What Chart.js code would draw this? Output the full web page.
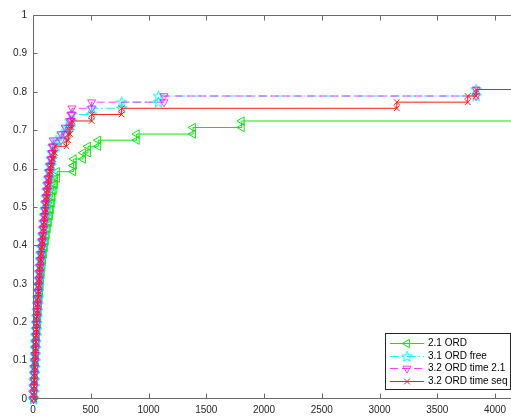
<!DOCTYPE html>
<html>
<head>
<meta charset="utf-8">
<script src="https://cdn.jsdelivr.net/npm/chart.js@4.4.0/dist/chart.umd.min.js"></script>
<style>
  html, body { margin: 0; padding: 0; background: #fff; }
  canvas { display: block; }
</style>
</head>
<body>
<canvas id="cdf" width="511" height="416"></canvas>
<script>
// cumulative fraction reached after each step (same grid for every run)
const levels = [0, 0.017, 0.033, 0.049, 0.066, 0.082, 0.099, 0.115, 0.132, 0.148,
  0.165, 0.181, 0.197, 0.214, 0.230, 0.247, 0.263, 0.280, 0.296, 0.312,
  0.329, 0.345, 0.362, 0.378, 0.395, 0.411, 0.427, 0.444, 0.460, 0.477,
  0.493, 0.510, 0.526, 0.543, 0.559, 0.575, 0.592, 0.608, 0.625, 0.641,
  0.658, 0.674, 0.690, 0.707, 0.724, 0.741, 0.757, 0.773, 0.789, 0.806];

const seriesNames = ["2.1 ORD", "3.1 ORD free", "3.2 ORD time 2.1", "3.2 ORD time seq"];

// x position of each step, one entry per level
const ord21X = [8, 9, 11, 13, 15, 18, 20, 23, 26, 29, 32, 35, 39, 42, 46, 49, 53, 57, 61, 66,
  71, 76, 82, 88, 95, 103, 111, 119, 128, 137, 147, 155, 163, 170, 180, 190, 208, 349, 353, 433,
  476, 565, 898, 1385, 1807];
const ord31FreeX = [5, 6, 8, 10, 12, 14, 17, 19, 21, 23, 25, 28, 30, 33, 36, 39, 42, 45, 48, 52,
  56, 60, 64, 68, 73, 78, 83, 88, 93, 98, 103, 109, 114, 120, 126, 133, 140, 148, 157, 165,
  172, 200, 250, 290, 320, 337, 508, 768, 1085, 3836];
const ord32Time21X = [4, 5, 7, 9, 11, 14, 16, 18, 20, 22, 24, 27, 29, 32, 35, 38, 41, 44, 47, 51,
  55, 59, 63, 67, 72, 77, 82, 87, 92, 97, 102, 107, 113, 119, 125, 131, 138, 146, 155, 163,
  168, 175, 243, 280, 318, 330, 337, 508, 1134, 3836];
const ord32SeqX = [5, 6, 8, 10, 12, 15, 17, 19, 21, 23, 25, 28, 30, 33, 36, 39, 42, 45, 48, 52,
  56, 60, 65, 69, 74, 79, 84, 89, 94, 99, 104, 110, 115, 121, 128, 135, 143, 152, 163, 175,
  190, 290, 305, 320, 337, 508, 767, 3149, 3763, 3836];

const xTicks = [0, 500, 1000, 1500, 2000, 2500, 3000, 3500, 4000];
const yTicks = [0, 0.1, 0.2, 0.3, 0.4, 0.5, 0.6, 0.7, 0.8, 0.9, 1];
const xMax = 4138;
const xEnd = 4600;

// turn step positions into stair vertices (corner points get markers too)
function stairs(xs) {
  const pts = [];
  for (let i = 0; i < xs.length; i++) {
    if (i > 0) pts.push({ x: xs[i], y: levels[i - 1] });
    pts.push({ x: xs[i], y: levels[i] });
  }
  pts.push({ x: xEnd, y: levels[xs.length - 1] });
  return pts;
}

function starMarker(color) {
  const c = document.createElement('canvas');
  c.width = 13; c.height = 13;
  const g = c.getContext('2d');
  g.strokeStyle = color;
  g.lineWidth = 1;
  g.beginPath();
  for (let i = 0; i < 10; i++) {
    const r = i % 2 ? 2.3 : 5.5;
    const a = -Math.PI / 2 + i * Math.PI / 5;
    const px = 6.5 + r * Math.cos(a), py = 6.8 + r * Math.sin(a);
    if (i === 0) g.moveTo(px, py); else g.lineTo(px, py);
  }
  g.closePath();
  g.stroke();
  return c;
}

const star = starMarker('#00f0f0');

const styles = [
  { color: '#16e016', dash: [], pointStyle: 'triangle', rotation: -90, radius: 4.8, order: 4 },
  { color: 'rgba(0,235,235,0.85)', dash: [9, 3, 1.5, 3], pointStyle: star, rotation: 0, radius: 4, order: 3 },
  { color: 'rgba(255,0,255,0.75)', dash: [8, 4], pointStyle: 'triangle', rotation: 180, radius: 4.6, order: 2 },
  { color: '#ff1a1a', dash: [], pointStyle: 'crossRot', rotation: 0, radius: 4, order: 1 }
];

const allX = [ord21X, ord31FreeX, ord32Time21X, ord32SeqX];

const datasets = allX.map((xs, i) => {
  const pts = stairs(xs);
  const st = styles[i];
  return {
    label: seriesNames[i],
    data: pts,
    borderColor: st.color,
    borderWidth: 1,
    borderDash: st.dash,
    pointStyle: st.pointStyle,
    pointRotation: st.rotation,
    pointRadius: pts.map((p, j) => (j === pts.length - 1 ? 0 : st.radius)),
    pointBorderColor: st.color,
    pointBackgroundColor: 'rgba(0,0,0,0)',
    pointBorderWidth: 1,
    pointHitRadius: 0,
    tension: 0,
    fill: false,
    clip: false,
    order: st.order
  };
});

// box lines and inward ticks
const axesBox = {
  id: 'axesBox',
  afterDraw(chart) {
    const { ctx, chartArea: a, scales } = chart;
    ctx.save();
    ctx.strokeStyle = '#6a6a6a';
    ctx.lineWidth = 1;
    const L = Math.round(a.left) + 0.5, B = Math.round(a.bottom) - 0.5, T = Math.round(a.top) + 0.5;
    ctx.beginPath();
    ctx.moveTo(L, T); ctx.lineTo(L, B);
    ctx.moveTo(L, B); ctx.lineTo(a.right + 1, B);
    ctx.moveTo(L, T); ctx.lineTo(a.right + 1, T);
    xTicks.forEach(v => {
      const x = Math.round(scales.x.getPixelForValue(v)) + 0.5;
      ctx.moveTo(x, B); ctx.lineTo(x, B - 5);
      ctx.moveTo(x, T); ctx.lineTo(x, T + 5);
    });
    yTicks.forEach(v => {
      const y = Math.round(scales.y.getPixelForValue(v)) + 0.5;
      ctx.moveTo(L, y); ctx.lineTo(L + 4, y);
    });
    ctx.stroke();
    ctx.restore();
  }
};

// legend box in the lower right corner
const cornerLegend = {
  id: 'cornerLegend',
  afterDraw(chart) {
    const ctx = chart.ctx;
    const left = 385.5, top = 333.5, w = 125, h = 56;
    ctx.save();
    ctx.fillStyle = '#fff';
    ctx.fillRect(left, top, w, h);
    ctx.strokeStyle = '#262626';
    ctx.lineWidth = 1;
    ctx.strokeRect(left, top, w, h);
    ctx.font = '10px "Liberation Sans", Arial, sans-serif';
    ctx.textBaseline = 'middle';
    seriesNames.forEach((name, i) => {
      const st = styles[i];
      const y = Math.round(343 + i * 12.7) + 0.5;
      ctx.strokeStyle = st.color;
      ctx.setLineDash(st.dash);
      ctx.beginPath();
      ctx.moveTo(390, y); ctx.lineTo(424, y);
      ctx.stroke();
      ctx.setLineDash([]);
      ctx.fillStyle = 'rgba(0,0,0,0)';
      Chart.helpers.drawPoint(ctx, {
        pointStyle: st.pointStyle, rotation: st.rotation, radius: st.radius, borderWidth: 1
      }, 407, y);
      ctx.fillStyle = '#000';
      ctx.fillText(name, 428, y);
    });
    ctx.restore();
  }
};

new Chart(document.getElementById('cdf'), {
  type: 'line',
  data: { datasets },
  plugins: [axesBox, cornerLegend],
  options: {
    responsive: false,
    animation: false,
    devicePixelRatio: 1,
    layout: { autoPadding: false, padding: { top: 15, left: 0, right: 0, bottom: 0 } },
    plugins: { legend: { display: false }, tooltip: { enabled: false } },
    scales: {
      x: {
        type: 'linear',
        min: 0,
        max: xMax,
        afterBuildTicks: s => { s.ticks = xTicks.map(v => ({ value: v })); },
        afterFit: s => { s.height = 17; s.paddingRight = 0; },
        grid: { display: false, drawTicks: false },
        border: { display: false },
        ticks: {
          padding: 5,
          color: '#262626',
          font: { family: '"Liberation Sans", Arial, sans-serif', size: 10 },
          maxRotation: 0,
          autoSkip: false,
          callback: v => String(v)
        }
      },
      y: {
        type: 'linear',
        min: 0,
        max: 1,
        afterBuildTicks: s => { s.ticks = yTicks.map(v => ({ value: v })); },
        afterFit: s => { s.width = 33; },
        grid: { display: false, drawTicks: false },
        border: { display: false },
        ticks: {
          padding: 6,
          color: '#262626',
          font: { family: '"Liberation Sans", Arial, sans-serif', size: 10 },
          autoSkip: false,
          callback: v => String(Math.round(v * 10) / 10)
        }
      }
    }
  }
});
</script>
</body>
</html>
